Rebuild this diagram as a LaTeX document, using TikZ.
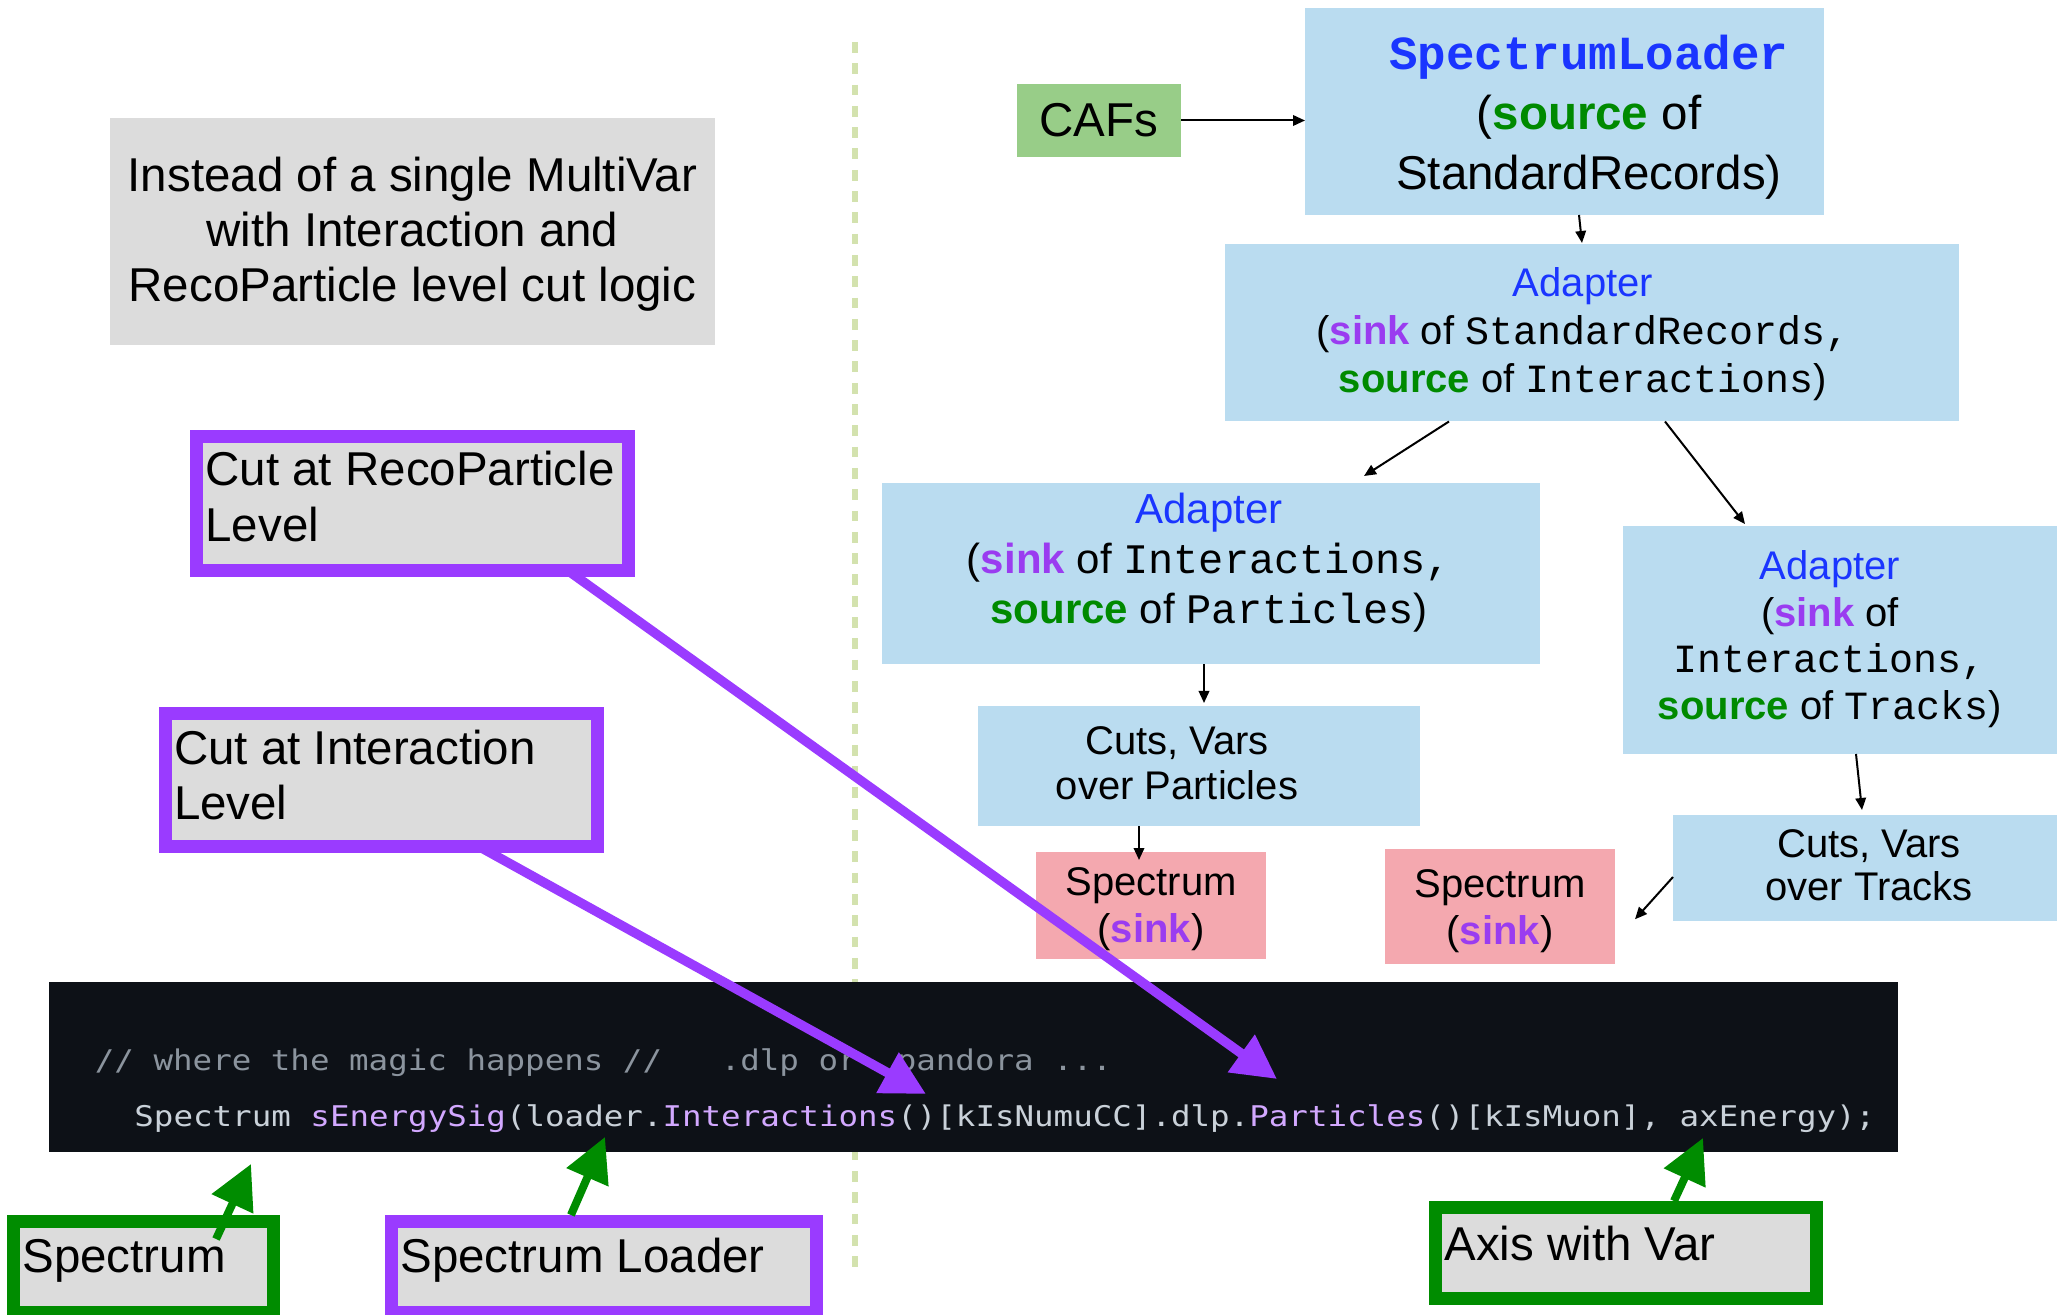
\documentclass[tikz,border=0pt]{standalone}
\usepackage{fontspec}
\setmainfont{Liberation Sans}
\newfontfamily\courfont{Liberation Mono}
\newfontfamily\codefont{DejaVu Sans Mono}[FakeStretch=1.14]
\usetikzlibrary{arrows.meta,fit}

\definecolor{boxblue}{HTML}{BADCF0}
\definecolor{boxpink}{HTML}{F4A8AF}
\definecolor{cafgreen}{HTML}{98CD88}
\definecolor{notegray}{HTML}{DCDCDC}
\definecolor{cutpurple}{HTML}{9A3BFF}
\definecolor{taggreen}{HTML}{008C00}
\definecolor{codebg}{HTML}{0D1117}
\definecolor{codefg}{HTML}{C9D1D9}
\definecolor{codecomment}{HTML}{8B949E}
\definecolor{codefunc}{HTML}{D2A8FF}
\definecolor{titleblue}{HTML}{1A35FF}
\definecolor{srcgreen}{HTML}{008A00}
\definecolor{sinkpurple}{HTML}{9A3CF0}
\definecolor{dashgreen}{HTML}{D3E2AE}

\newcommand{\srcword}{\textcolor{srcgreen}{\bfseries source}}
\newcommand{\sinkword}{\textcolor{sinkpurple}{\bfseries sink}}
\newcommand{\monotext}[1]{{\courfont #1}}

\tikzset{
  panel/.style={inner sep=0pt, outer sep=0pt},
  bluebox/.style={panel, fill=boxblue},
  pinkbox/.style={panel, fill=boxpink},
  cafbox/.style={panel, fill=cafgreen},
  notebox/.style={panel, fill=notegray},
  framedbox/.style={panel, fill=notegray, draw=#1, line width=6.5pt},
  txt/.style={inner sep=0pt, outer sep=0pt, align=center},
  lefttxt/.style={inner sep=0pt, outer sep=0pt, align=left, anchor=west},
  flow/.style={-{Triangle[length=6pt,width=5.25pt]}, line width=1pt, black},
  cutarrow/.style={-{Triangle[length=22pt,width=22pt]}, line width=4.75pt, cutpurple},
  tagarrow/.style={-{Triangle[length=22pt,width=22pt]}, line width=4pt, taggreen},
  divider/.style={dashgreen, line width=2.8pt, dash pattern=on 5.4pt off 5.25pt}
}

\begin{document}
\begin{tikzpicture}[x=0.5pt,y=-0.5pt]
\useasboundingbox (0,0) rectangle (2057,1315);

% dividing line between the two halves
\draw[divider] (855,42) -- (855,1268);

% ---- left half: explanation boxes ----
\node[notebox, fit={(110,118)(715,345)}] (note) {};
\node[txt, font=\fontsize{23.75pt}{27.5pt}\selectfont] (noteText) at (412.5,234.5)
  {Instead of a single MultiVar\\with Interaction and\\RecoParticle level cut logic};

\node[framedbox=cutpurple, fit={(196.5,436.5)(628.5,571)}] (rp) {};
\node[lefttxt, font=\fontsize{23.75pt}{28pt}\selectfont] (rpText) at (205.5,497)
  {Cut at RecoParticle\\Level};

\node[framedbox=cutpurple, fit={(165,713.5)(597,846.5)}] (il) {};
\node[lefttxt, font=\fontsize{23.75pt}{27.5pt}\selectfont] (ilText) at (174,775)
  {Cut at Interaction\\Level};

% ---- right half: data flow ----
\node[cafbox, fit={(1017,84)(1181,157)}] (cafs) {};
\node[txt, font=\fontsize{23.75pt}{28pt}\selectfont] (cafsText) at (cafs.center) {CAFs};

\node[bluebox, fit={(1305,8)(1824,215)}] (sl) {};
\node[txt, font=\fontsize{23.75pt}{30pt}\selectfont] (slText) at (1589,117)
  {\textcolor{titleblue}{\courfont\bfseries SpectrumLoader}\\(\srcword{} of\\StandardRecords)};

\node[bluebox, fit={(1225,244)(1959,421.5)}] (a1) {};
\node[txt, font=\fontsize{20pt}{24pt}\selectfont] (a1Text) at (1583,334.5)
  {\textcolor{titleblue}{Adapter}\\(\sinkword{} of \monotext{StandardRecords,}\\\srcword{} of \monotext{Interactions})};

\node[bluebox, fit={(882,483)(1540,664.5)}] (a2) {};
\node[txt, font=\fontsize{21pt}{25pt}\selectfont] (a2Text) at (1209,563)
  {\textcolor{titleblue}{Adapter}\\(\sinkword{} of \monotext{Interactions,}\\\srcword{} of \monotext{Particles})};

\node[bluebox, fit={(1623,526)(2057,754)}] (a3) {};
\node[txt, font=\fontsize{20pt}{23.25pt}\selectfont] (a3Text) at (1830,639)
  {\textcolor{titleblue}{Adapter}\\(\sinkword{} of\\\monotext{Interactions,}\\\srcword{} of \monotext{Tracks})};

\node[bluebox, fit={(978,706)(1420,826)}] (cp) {};
\node[txt, font=\fontsize{20pt}{22.5pt}\selectfont] (cpText) at (1177,763)
  {Cuts, Vars\\over Particles};

\node[bluebox, fit={(1673,815)(2057,921)}] (ct) {};
\node[txt, font=\fontsize{20pt}{21.5pt}\selectfont] (ctText) at (1869,865)
  {Cuts, Vars\\over Tracks};

\node[pinkbox, fit={(1036,852)(1266,959)}] (s1) {};
\node[txt, font=\fontsize{20pt}{23.25pt}\selectfont] (s1Text) at (1151,909)
  {Spectrum\\(\sinkword)};

\node[pinkbox, fit={(1385,849)(1615,963.5)}] (s2) {};
\node[txt, font=\fontsize{20pt}{23.25pt}\selectfont] (s2Text) at (1500,911)
  {Spectrum\\(\sinkword)};

% flow connectors
\draw[flow] (cafs.east) -- (sl.west |- cafs.east);
\draw[flow] ([xshift=7.25pt]sl.south) -- ([xshift=-5pt,yshift=0.5pt]a1.north);
\draw[flow] ([xshift=-71.5pt]a1.south) -- ([xshift=76.5pt,yshift=3.5pt]a2.north);
\draw[flow] ([xshift=36.5pt]a1.south) -- ([xshift=-47.5pt,yshift=1pt]a3.north);
\draw[flow] ([xshift=-3.5pt]a2.south) -- ([xshift=2.5pt,yshift=1.5pt]cp.north);
\draw[flow] ([xshift=-30pt]cp.south) -- ([xshift=-6pt,yshift=-4pt]s1.north);
\draw[flow] ([xshift=8pt]a3.south) -- ([xshift=-1.5pt,yshift=2.5pt]ct.north);
\draw[flow] ([yshift=-4.5pt]ct.west) -- ([xshift=10pt,yshift=-6.5pt]s2.east);

% ---- code listing ----
\node[panel, fill=codebg, fit={(49,982)(1898,1152)}] (code) {};
\node[inner sep=0pt, anchor=base west, font=\codefont\fontsize{14.25pt}{17pt}\selectfont,
      text=codecomment] (codeA) at (94.5,1070)
  {// where the magic happens //\ \ \ .dlp or\ \ pandora ...};
\node[inner sep=0pt, anchor=base west, font=\codefont\fontsize{14.25pt}{17pt}\selectfont,
      text=codefg] (codeB) at (134,1126)
  {Spectrum \textcolor{codefunc}{sEnergySig}(loader.\textcolor{codefunc}{Interactions}()[kIsNumuCC].dlp.\textcolor{codefunc}{Particles}()[kIsMuon], axEnergy);};

% ---- labels under the listing ----
\node[framedbox=taggreen, fit={(13.5,1221.5)(273,1312.5)}] (sp) {};
\node[inner sep=0pt, anchor=base west, font=\fontsize{23.75pt}{28pt}\selectfont] (spText) at (22,1272) {Spectrum};

\node[framedbox=cutpurple, fit={(391,1221.5)(816.5,1312.5)}] (sld) {};
\node[inner sep=0pt, anchor=base west, font=\fontsize{23.75pt}{28pt}\selectfont] (sldText) at (400,1272) {Spectrum Loader};

\node[framedbox=taggreen, fit={(1435.5,1207.5)(1816.5,1298.5)}] (ax) {};
\node[inner sep=0pt, anchor=base west, font=\fontsize{23.75pt}{28pt}\selectfont] (axText) at (1444,1260) {Axis with Var};

% pointers into the listing
\draw[cutarrow] ([xshift=78pt]rp.south) -- ([xshift=151.75pt,yshift=-6pt]code.center);
\draw[cutarrow] ([xshift=49pt]il.south) -- ([xshift=-23.75pt,yshift=-13.5pt]code.center);
\draw[tagarrow] ([xshift=36.4pt,yshift=-8.75pt]sp.north) -- ([xshift=-361.25pt,yshift=-6pt]code.south);
\draw[tagarrow] ([xshift=-16.4pt,yshift=3.25pt]sld.north) -- ([xshift=-184.25pt,yshift=7.5pt]code.south);
\draw[tagarrow] ([xshift=24pt,yshift=3.25pt]ax.north) -- ([xshift=364.75pt,yshift=7pt]code.south);

\end{tikzpicture}
\end{document}
